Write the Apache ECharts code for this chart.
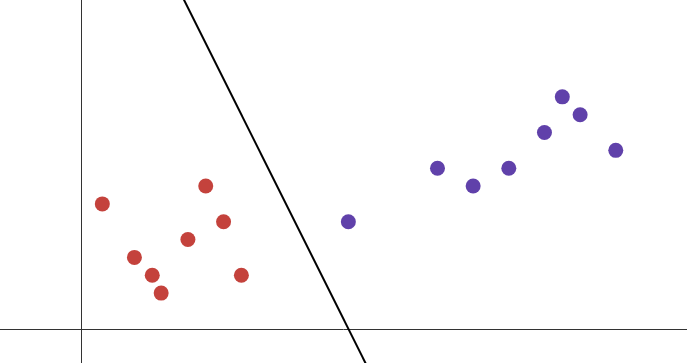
<!DOCTYPE html>
<html><head><meta charset="utf-8">
<script src="https://cdn.jsdelivr.net/npm/echarts@6/dist/echarts.min.js"></script>
<style>html,body{margin:0;padding:0;background:#fff}#c{width:687px;height:363px}</style>
</head><body><div id="c"></div>
<script>
// Class A (red)
const redX = [1.2, 3, 4, 4.5, 6, 7, 8, 9];
const redY = [7, 4, 3, 2, 5, 8, 6, 3];
// Class B (purple)
const purpleX = [15, 20, 22, 24, 26, 27, 28, 30];
const purpleY = [6, 9, 8, 9, 11, 13, 12, 10];
// Decision boundary: y = 30 - 2x, drawn through two endpoints
const boundaryX = [4, 17];
const boundaryY = boundaryX.map(x => 30 - 2 * x);

const zip = (xs, ys) => xs.map((x, i) => [x, ys[i]]);

const chart = echarts.init(document.getElementById('c'), null, {renderer: 'canvas'});
chart.setOption({
  animation: false,
  backgroundColor: '#ffffff',
  grid: {left: 0, right: 0, top: 0, bottom: 0, containLabel: false},
  xAxis: {
    type: 'value', min: -4.54, max: 33.995,
    axisLine: {onZero: true, lineStyle: {color: '#333', width: 1}},
    axisTick: {show: false}, axisLabel: {show: false}, splitLine: {show: false}
  },
  yAxis: {
    type: 'value', min: -1.92, max: 18.43,
    axisLine: {onZero: true, lineStyle: {color: '#333', width: 1}},
    axisTick: {show: false}, axisLabel: {show: false}, splitLine: {show: false}
  },
  series: [
    {type: 'line', data: zip(boundaryX, boundaryY), showSymbol: false, symbol: 'none',
     clip: true, lineStyle: {color: '#000', width: 2}, z: 1},
    {type: 'scatter', data: zip(redX, redY), symbolSize: 15,
     itemStyle: {color: '#c4423c', opacity: 1}, z: 3},
    {type: 'scatter', data: zip(purpleX, purpleY), symbolSize: 15,
     itemStyle: {color: '#6041aa', opacity: 1}, z: 3}
  ]
});
</script></body></html>
